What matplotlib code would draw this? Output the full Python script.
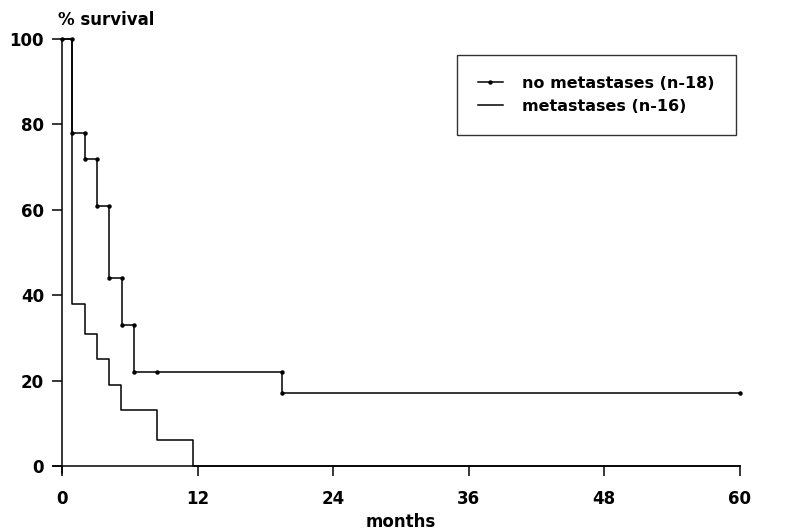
import matplotlib
matplotlib.use("Agg")
import matplotlib.pyplot as plt

# Data (months, % survival) – step curves
no_met_t = [0, 0.9, 2.0, 3.1, 4.2, 5.3, 6.4, 19.5, 60]
no_met_s = [100, 78, 72, 61, 44, 33, 22, 17, 17]
no_met_cens_t = [8.4]
no_met_cens_s = [22]

met_t = [0, 0.9, 2.0, 3.1, 4.2, 5.2, 8.4, 11.6, 60]
met_s = [100, 38, 31, 25, 19, 13, 6, 0, 0]

xticks = [0, 12, 24, 36, 48, 60]
yticks = [0, 20, 40, 60, 80, 100]

plt.rcParams['font.family'] = ['DejaVu Sans']
plt.rcParams['font.weight'] = 'bold'
plt.rcParams['axes.labelweight'] = 'bold'

fig = plt.figure(figsize=(7.87, 5.30), dpi=100)
ax = fig.add_axes([0.0788, 0.1208, 0.8612, 0.8056])

# metastases curve
ax.step(met_t, met_s, where='post', color='black', lw=1.1,
        label='metastases (n-16)', clip_on=False, zorder=3)

# no metastases curve with dots at the step corners
ax.step(no_met_t, no_met_s, where='post', color='black', lw=1.1, clip_on=False, zorder=4)
cx, cy = [], []
for i in range(len(no_met_t) - 1):
    cx += [no_met_t[i], no_met_t[i + 1]]
    cy += [no_met_s[i], no_met_s[i]]
cx += no_met_cens_t
cy += no_met_cens_s
ax.plot(cx, cy, ls='none', marker='o', ms=2.2, color='black', clip_on=False, zorder=5)
ax.plot([], [], color='black', lw=1.1, marker='o', ms=2.2, label='no metastases (n-18)')

ax.set_xlim(0, 60)
ax.set_ylim(0, 100)
ax.set_xticks(xticks)
ax.set_yticks(yticks)
ax.tick_params(axis='both', direction='out', length=7, width=1.1, labelsize=12, pad=6, colors='black')
ax.tick_params(axis='x', pad=10)
for s in ['top', 'right']:
    ax.spines[s].set_visible(False)
for s in ['left', 'bottom']:
    ax.spines[s].set_linewidth(1.1)
ax.spines['bottom'].set_bounds(-0.8, 60)
ax.spines['left'].set_bounds(-1.6, 100)

ax.set_xlabel('months', fontsize=12, fontweight='bold', labelpad=4)
fig.text(0.074, 0.962, '% survival', fontsize=12, ha='left', va='center')

handles, labels = ax.get_legend_handles_labels()
leg = ax.legend(handles[::-1], labels[::-1], loc='upper right', bbox_to_anchor=(0.9985, 0.97),
                frameon=True, fancybox=False, edgecolor='black', fontsize=11.5,
                handlelength=1.6, borderpad=1.3, labelspacing=0.5, handletextpad=1.2,
                borderaxespad=0.2)
leg.get_frame().set_linewidth(1.0)

fig.savefig('out.png', dpi=100)
